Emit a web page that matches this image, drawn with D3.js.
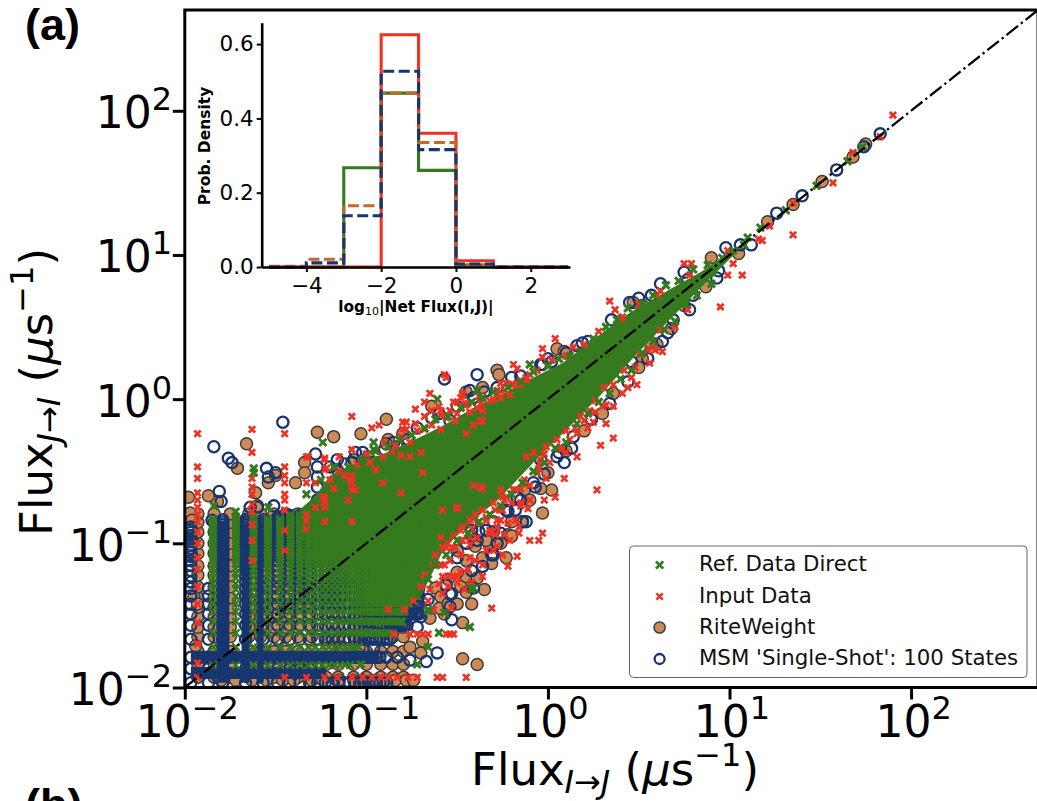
<!DOCTYPE html>
<html lang="en">

<head>
    <meta charset="UTF-8">
    <title>Flux scatter</title>
    <style>
        html, body {
            margin: 0;
            padding: 0;
            background: #fff;
            overflow: hidden;
        }

        svg {
            display: block;
        }
    </style>
</head>

<body>
    <div id="chart"></div>
    <script src="https://d3js.org/d3.v7.min.js"></script>
    <script>
        // scatter points are [log10 Flux I->J, log10 Flux J->I]
        const refPoints = [[1.73,1.75],[1.65,1.65],[1.48,1.48],[1.31,1.31],[1.17,1.19],[1.02,1.03],[.96,.98],[-.10,.24],[-1.24,-.30],[-.96,-.30],[-.96,-.35],[-.61,0],[-.39,.06],[-1.62,-.48],[-1.62,-.51],[-1.84,-.74],[-1.72,-.78],[-1.54,-.75],[-.43,-1.58],[-.60,-1.62],[-.66,-1.46],[-.57,-1.48],[-.41,-1.31],[-.66,-1.72],[-.72,-1.84],[-1.03,-1.84],[-.42,-1.32],[-.66,-1.47],[1.08,1.07],[.9,.88],[1.1,1.12]];
        const refFringe = [[-1.33,-.66],[-1.25,-.56],[-1.18,-.47],[-1.1,-.47],[-1.02,-.42],[-.95,-.36],[-.88,-.33],[-.82,-.28],[-.75,-.25],[-.68,-.2],[-.62,-.14],[-.55,-.12],[-.48,-.06],[-.42,-.02],[-.36,.01],[-.3,.05],[-.22,.08],[-.15,.12],[-.08,.19],[0,.23],[.06,.28],[.12,.3],[.18,.33],[.25,.42],[.32,.5],[.38,.55],[.44,.63],[.52,.66],[.58,.72],[.65,.79],[.72,.82],[.8,.9],[.88,.93],
            [-.66,-1.25],[-.62,-1.15],[-.56,-1.08],[-.5,-.98],[-.44,-.93],[-.38,-.85],[-.32,-.8],[-.26,-.74],[-.2,-.66],[-.14,-.58],[-.08,-.5],[-.02,-.44],[.04,-.34],[.1,-.3],[.16,-.17],[.22,-.1],[.28,-.02],[.34,.04],[.4,.14],[.46,.2],[.52,.32],[.58,.4],[.64,.48],[.7,.54],[.76,.66],[.82,.72],[.9,.8]];

        const inputPoints = [[1.90,1.97],[1.57,1.50],[1.35,1.14],[1.83,1.82],[1.68,1.71],[1.22,1.20],[1.16,1.11],[1.18,1.10],[1.35,1.36],[.99,1.03],[.75,.94],[.79,.94],[.78,.86],[1.02,.94],[.99,.86],[1.07,.86],[.95,.64],[.34,.68],[.37,.62],[.41,.57],[.04,.42],[-.03,.35],[-.03,.29],[-.19,.24],[-.17,.21],[.46,.15],[.49,.10],[.41,.04],[.32,-.04],[.36,-.05],[.26,-.09],[.25,-.16],[.32,-.17],[.36,-.27],[.29,-.32],[.16,-.24],[.16,-.40],[.09,-.55],[.27,-.63],[.04,-.68],[-.02,-.70],[-.01,-.55],[.77,.62],[.59,.34],[.63,.33],[.55,.34],[.60,.72],
            [-1.08,-.12],[-.97,-.20],[-.93,-.18],[-.73,-.07],[-.73,-.17],[-.65,.04],[-.68,-.02],[-.68,-.12],[-.57,.17],[-.56,.15],[-.80,-.16],[-.81,-.26],[-.78,-.16],[-.80,-.21],[-.78,-.21],[-.68,-.21],[-.17,.11],[-1.08,-.35],[-1.15,-.40],[-1.32,-.40],[-1.23,-.42],[-1.08,-.53],[-1.08,-.58],[-1.23,-.72],[-1.33,-.80],[-.52,-.02],[-.48,.01],[-.47,.03],[-.41,-.18],[-.36,-.08],[-.26,.01],[-.59,-.11],[-.46,-.04],[-.43,-.09],[-.32,-.01],[-.24,.06],[-.21,.03],[-.15,.10],[-.10,.17],[-.84,-.32],[-.59,-.21],[-.51,-.15],[-.81,-.39],[-.95,-.49],[-1.12,-.53],[-1.06,-.63],[-1.20,-.56],
            [-1.93,-.24],[-1.93,-.47],[-1.93,-.55],[-1.93,-.65],[-1.93,-.70],[-1.93,-.75],[-1.93,-.80],[-1.93,-.85],[-1.93,-.92],[-1.93,-1.0],[-1.93,-1.1],[-1.93,-1.18],[-1.93,-1.3],[-1.93,-1.42],[-1.93,-1.55],[-1.93,-1.7],[-1.93,-1.83],[-1.93,-1.93],
            [-1.63,-.21],[-1.63,-.37],[-1.63,-.55],[-1.63,-.61],[-1.63,-.66],[-1.63,-.73],[-1.63,-.78],[-1.63,-.87],[-1.63,-.98],[-1.63,-1.12],
            [-1.45,-.24],[-1.45,-.47],[-1.45,-.53],[-1.45,-.58],[-1.45,-.66],[-1.45,-.70],[-1.45,-.77],[-1.45,-.91],[-1.45,-1.05],
            [-1.33,-.40],[-1.33,-.58],[-1.23,-.41],[-1.23,-.49],[-1.23,-.75],
            [-1.45,-1.93],[-1.33,-1.93],[-1.23,-1.93],[-1.16,-1.93],[-1.08,-1.93],[-1.02,-1.93],[-.97,-1.93],[-.92,-1.93],[-.88,-1.93],[-.83,-1.93],[-.77,-1.93],[-.72,-1.93],[-.61,-1.93],[-.58,-1.93],[-.45,-1.93],
            [-.85,-1.63],[-.76,-1.63],[-.72,-1.63],[-.69,-1.63],[-.66,-1.63],[-.56,-1.63],[-.54,-1.63],[-.52,-1.63],
            [-.31,-1.45],[-.53,-1.45],[-.88,-1.46],[-.79,-1.46],[-.63,-1.46],
            [-.10,-.98],[-.05,-.98],[-.03,-.93],[-.16,-.93],[-.16,-.89],[-.17,-1.09],[-.22,-1.16],[-.11,-.76],[-.15,-.74],[-.10,-.70],[-.21,-.98],[-.36,-1.15],[-.63,-1.15],[-.61,-1.15],[-.59,-1.15],[-.57,-1.15],[-.58,-1.23],[-.55,-1.23],[-.52,-1.23],[-.50,-1.23],[-.58,-1.03],[-.56,-1.03],[-.53,-1.03],[-.51,-1.03],[-.43,-1.10],[-.25,-1.08],[-.36,-1.23],[-.46,-1.32],[-.58,-1.35],[-.65,-1.32],[-.37,-.61],[-.50,-.76],[-.36,-.77],[-.06,-.51],[-.12,-.40],[-.22,-.86],[-.26,-.84],[-.39,-.96],[-.32,-.91],[-.29,-.77],[-.24,-.70],[-.18,-.63],[-.13,-.56],[-.04,-.42],[.01,-.44],[-.43,-1.01],[-.48,-1.08],[-.54,-1.12],[-.29,-.94],[-.24,-.94],[-.18,-.84],[-.43,-.84],[-.48,-.91],[.23,-.08],[.20,-.15],[.15,-.20],[.26,-.01],[.31,.08],[.42,.20],[.51,.31],[.62,.48],[.12,-.28],[.07,-.35],
            [-.69,-.51],[-.81,-.65],[-.36,-.62],[-.41,-.60],[-.50,-.75],[-.58,-.77],[-.91,-.58],[-.59,-.96],[-.19,-.63],[-.25,-.68],[-.45,-.24],[-.37,-.15]];
        const inputFringe = [[-1.28,-.58],[-1.22,-.48],[-1.15,-.5],[-1.05,-.45],[-1,-.38],[-.9,-.3],[-.86,-.36],[-.76,-.3],[-.72,-.22],[-.64,-.18],[-.6,-.05],[-.54,-.08],[-.5,-.1],[-.44,-.03],[-.38,.02],[-.3,0],[-.28,.06],[-.2,.1],[-.12,.15],[-.06,.2],[.02,.27],[.1,.3],[.14,.36],[.2,.38],[.28,.47],[.4,.56],[.5,.66],[.62,.75],
            [-.62,-1.08],[-.55,-1],[-.52,-.95],[-.47,-.98],[-.42,-.9],[-.4,-.8],[-.34,-.82],[-.3,-.72],[-.26,-.76],[-.2,-.72],[-.15,-.62],[-.1,-.6],[-.05,-.48],[-.02,-.38],[.05,-.28],[.1,-.22],[.18,-.12],[.22,-.2],[.3,-.05],[.36,.1],[.48,.22],[.58,.36],[.7,.5],[.56,.25],[.44,.08],
            [-.44,-1.18],[-.48,-1.2],[-.4,-1.12],[-.34,-1.05],[-.3,-1.05],[-.28,-1.02],[-.5,-1.27],[-.42,-1.27],[-.55,-1.3],[-.6,-1.28],[-.68,-1.22],[-.7,-1.3],[-.74,-1.4],[-.66,-1.4],
            [-1.28,-.75],[-1.23,-.68],[-1.18,-.62],[-1.1,-.7],[-1.33,-.9],[-1.23,-.85],[-1.08,-.85],
            [-.59,-.08],[-.56,-.13],[-.50,-.02],[-.47,.04],[-.45,-.04],[-.37,-.03],[-.36,-.15],[-.28,.04],[-.23,.11],[-.19,.10],[-.15,.13],[-.26,.11],[-.12,.13],[-.64,-.08],[-.39,-.06],[-.70,-.37],[-.76,-.40],[-.91,-.40],[-.98,-.44],[-1.09,-.56],[-1.08,-.63],[-1.24,-.68],[-1.33,-.84],
            [-.28,-.84],[-.25,-.77],[-.23,-.68],[-.19,-.63],[-.15,-.72],[-.26,-.63],[-.34,-.84],[-.39,-.86],[-.43,-.96],[-.47,-.89],[-.48,-.98],[-.32,-.93],[-.28,-.89],[-.08,-.37],[-.01,-.33],[.07,-.33],[.10,-.37],[-.04,-.44]];

        const riteWeightPoints = [[1.75,1.77],[1.68,1.68],[1.51,1.51],[1.35,1.35],[1.21,1.23],[1.05,1.01],[.90,.98],[.87,.78],[.47,.67],[.52,.65],[.05,.35],[.09,.33],[-.28,.20],[-.27,.17],[-.36,.08],[0,-.51],[.02,-.63],[-.03,-.79],[.36,.04],[.52,.28],[.68,.49],[.75,.65],[.56,.40],
            [-1.27,-.23],[-1.18,-.26],[-1.03,-.24],[-.89,-.14],[-.88,-.28],[-.89,-.31],[-.64,-.05],[-1.34,-.44],[-1.34,-.51],[-1.16,-.49],[-1.07,-.42],[-.99,-.40],[-.80,-.24],[-.45,.05],
            [-1.66,-.31],[-1.71,-.48],[-1.54,-.58],[-1.50,-.53],[-1.61,-.65],[-1.39,-.58],[-1.82,-.71],[-1.60,-.74],[-1.87,-.67],[-1.98,-.68],[-1.97,-.79],[-1.96,-.84],[-1.96,-.98],[-1.96,-1.09],[-1.95,-1.37],[-1.93,-1.42],[-1.94,-1.71],
            [-.47,-1.80],[-.39,-1.84],[-.47,-1.55],[-.35,-1.32],[-.45,-1.30],[-.48,-1.30],[-.31,-1.14],[-.62,-1.31],[-.59,-1.37],[-.76,-1.72],[-.69,-1.68],[-.70,-1.76],[-.14,-.85],[-.23,-1.10],[-.32,-1.01],[-.22,-.94],[-.57,-1.49],[-.36,-1.10],[-.13,-.63],[-.45,-1.23],[-.39,-1.24],[-.45,-1.34],
            [-1.8,-1.95],[-1.72,-1.95],[-1.63,-1.95],[-1.55,-1.95],[-1.46,-1.95],[-1.4,-1.95],[-1.3,-1.95],[-1.24,-1.95],[-1.15,-1.95],[-1.07,-1.95],[-1.02,-1.95],[-.95,-1.95],[-.9,-1.95],[-.84,-1.95],[-.78,-1.95],[-.74,-1.95],
            [-1.2,-1.72],[-1.13,-1.72],[-1.08,-1.72],[-1.04,-1.72],
            [-.55,-1.25],[-.5,-1.2],[-.45,-1.12],[-.4,-1.02],[-.3,-.92],[-.2,-.85],[-.1,-.7],[-.04,-.62],[.1,-.36],[.2,-.22],[.3,-.1],[.5,.22],[.6,.38],[-.6,-1.45],[-.65,-1.52],[-.55,-1.42],[-.42,-1.42],[-.5,-1.42],
            [-.42,-.95],[-.34,-.98],[-.26,-1.0],[-.2,-.95],[-.5,-1.05]];

        const msmPoints = [[1.83,1.84],[1.74,1.75],[1.59,1.59],[1.40,1.41],[1.26,1.29],[1.12,1.07],[1.06,1.07],[.98,1.05],[.93,.84],[.94,.89],[.80,.72],[.77,.83],[.57,.72],[.45,.67],[.16,.37],[.19,.39],[-.03,.24],[.02,.26],[.46,.26],[.63,.40],[.69,.55],[-.07,-.61],[.13,-.34],[.09,-.44],[-.14,-.85],[.32,.17],[-.39,.17],[-.57,.14],[-1.28,-.38],[-1.16,-.42],[-1.06,-.37],[-1.08,-.44],[-1.27,-.47],[-1.27,-.54],[-1.27,-.61],[-1.27,-.70],[-.43,.06],[-.64,-.13],[-.20,.15],[-.04,.24],[-.83,-.33],[-.97,-.44],[-.96,-.47],[-.77,-.28],[-.54,-.15],[-.41,.01],
            [-1.84,-.33],[-1.76,-.41],[-1.74,-.44],[-1.46,-.16],[-1.55,-.48],[-1.54,-.54],[-1.50,-.51],[-1.81,-.64],[-1.80,-.71],[-1.85,-.84],[-1.64,-.75],[-1.60,-.75],[-1.51,-.74],[-1.54,-.85],
            [-.61,-1.76],[-.67,-1.82],[-.76,-1.81],[-.83,-1.79],[-.53,-1.53],[-.54,-1.44],[-.54,-1.35],[-.56,-1.29],[-.36,-1.16],[-.30,-1.08],[-.42,-1.19],[-.72,-1.58],[-.96,-1.72],[-.89,-1.79],[-.12,-.85],[-.18,-.77],[-.28,-1.0],[-.31,-1.08],[-.41,-1.31],[-.53,-1.35],[-.66,-1.39],[-.70,-1.51],[.06,-.37],
            [-1.2,-.47],[-1.12,-.45],[-1.02,-.37],[-.9,-.35],[-.85,-.3],[-.72,-.2],[-.6,-.1],[-.5,-.05],[-.35,.05],[-.28,.08],[-.15,.16],[0,.28],[.1,.32],[.22,.4],[.35,.55],[.5,.7],[.62,.8],[.75,.88],
            [-.5,-1.1],[-.45,-1],[-.38,-.92],[-.3,-.85],[-.22,-.78],[-.15,-.7],[-.08,-.58],[-.02,-.52],[.05,-.4],[.14,-.26],[.24,-.14],[.34,-.03],[.44,.12],[.55,.28],[.66,.46],[.78,.62],
            [-.26,-.93],[-.39,-.98],[-.45,-1.0],[-.42,-.91],[-.34,-.91],[-.23,-.77],[-.17,-.68],[-.04,-.42]];

        // low fluxes sit on discrete levels, these are the levels read from the columns and rows
        const refLevels = [.00956,.0143,.0191,.0239,.0287,.0335,.0382,.0430,.0478,.0526,.0574,.0621,.0669,.0717,.0765,.0813,.0860,.0908,.0956,.1004,.1052,.1099,.1147,.1195,.1243,.1291,.1338,.1386,.1434,.1482,.1530,.1577,.1625,.1673,.1721,.1769,.1816,.1864,.1912];
        const refColumnTops = [.08,.15,.155,.155,.15,.15];
        const refColumnTopRest = .16;
        const refRowEnds = [.13,.085,.093,.14,.158,.165,.175];
        const refRowEndRest = .192;

        const msmLevels = [.0108,.0135,.0162,.0216,.0270,.0324,.0378,.0432,.0486,.0540,.0594,.0648,.0702,.0756,.0810,.0864,.0918,.0972,.1026,.1080,.1134,.1188,.1242,.1296,.1350,.1404,.1458,.1512,.1566,.1620,.1674,.1728,.1782,.1836,.1890,.1944];
        const msmColumnTops = [.13,.05,.146,.15,.15,.155];
        const msmColumnTopRest = .16;
        const msmRowEnds = [.13,.05,.12,.14,.17];
        const msmRowEndRest = .195;

        const riteLevels = [.0118,.0145,.0178,.0225,.0262,.031,.036,.042,.05,.06,.07,.085,.1,.12,.14,.16];

        // where the MSM rings merge into solid strips: [level, from, to]
        const msmColumnStrips = [[.0162, .0108, .14], [.0216, .0108, .135], [.026, .0108, .125]];
        const msmRowStrips = [[.0162, .0108, .117], [.0126, .0108, .06]];
        const msmStripWidths = [13, 8, 7, 13, 12];

        // solid part of the Ref. Data cloud: [log10 x, log10 y low, log10 y high]
        const refCore = [[-1.37,-.98,-.77],[-1.28,-.98,-.67],[-1.20,-.97,-.53],[-1.0,-1.16,-.41],[-.92,-1.2,-.39],[-.70,-1.37,-.26],[-.57,-1.03,-.18],[-.41,-.84,-.06],[-.26,-.68,.03],[-.08,-.44,.15],[.08,-.24,.25],[.30,.04,.46],[.45,.26,.60],[.67,.55,.76],[.84,.77,.88],[1.04,1.02,1.05]];

        const xTicks = [.01, .1, 1, 10, 100];
        const yTicks = [.01, .1, 1, 10, 100];
        const tickExponents = ["\u22122", "\u22121", "0", "1", "2"];

        const legendLabels = ["Ref. Data Direct", "Input Data", "RiteWeight", "MSM 'Single-Shot': 100 States"];

        // inset histogram, bin edges and density per bin
        const histEdges = [-5, -4, -3, -2, -1, 0, 1, 2, 3];
        const histRef = [0, 0, .267, .468, .26, .005, 0, 0];
        const histInput = [0, 0, 0, .625, .36, .017, 0, 0];
        const histRite = [.002, .021, .165, .468, .335, .005, 0, 0];
        const histMsm = [0, .011, .138, .527, .316, .008, 0, 0];
        const histXTicks = [-4, -2, 0, 2];
        const histYTicks = [0, .2, .4, .6];

        const colors = { ref: "#357a1f", input: "#ee3224", rite: "#cc8a58", riteEdge: "#3f3a36", msm: "#17356f", riteHist: "#c4682e" };

        function richText(sel, parts) {
            // parts: [text, font size, baseline shift, italic]
            let shift = 0;
            parts.forEach(([t, size, up, italic]) => {
                sel.append("tspan")
                    .attr("font-size", size)
                    .attr("font-style", italic ? "italic" : "normal")
                    .attr("dy", shift - up)
                    .text(t);
                shift = up;
            });
        }

        function createChart() {
            const width = 1037;
            const height = 801;

            const x = d3.scaleLog().domain([.01, 500]).range([184.8, 1038]);
            const y = d3.scaleLog().domain([.01, 500]).range([687.5, 10]);
            const px = d => x(10 ** d[0]);
            const py = d => y(10 ** d[1]);

            const svg = d3.select("#chart").append("svg")
                .attr("width", width)
                .attr("height", height)
                .attr("viewBox", [0, 0, width, height])
                .attr("font-family", "'DejaVu Sans', sans-serif");

            svg.append("clipPath").attr("id", "plot-clip").append("rect")
                .attr("x", x.range()[0]).attr("y", y.range()[1])
                .attr("width", x.range()[1] - x.range()[0])
                .attr("height", y.range()[0] - y.range()[1]);

            const plot = svg.append("g").attr("clip-path", "url(#plot-clip)");

            const timesGreen = d3.symbol().type(d3.symbolTimes).size(36)();
            const timesRed = d3.symbol().type(d3.symbolTimes).size(28)();

            // keep lattice nodes inside the extent read for their column and row
            const lattice = (levels, tops, topRest, ends, endRest) => {
                const out = [];
                levels.forEach((xv, i) => levels.forEach((yv, j) => {
                    const top = i < tops.length ? tops[i] : topRest;
                    const end = j < ends.length ? ends[j] : endRest;
                    if (yv <= top && xv <= end) out.push([Math.log10(xv), Math.log10(yv)]);
                }));
                return out;
            };

            const riteAll = lattice(riteLevels, [], .17, [], .17).concat(riteWeightPoints);
            const msmAll = lattice(msmLevels, msmColumnTops, msmColumnTopRest, msmRowEnds, msmRowEndRest).concat(msmPoints);
            const refLattice = lattice(refLevels, refColumnTops, refColumnTopRest, refRowEnds, refRowEndRest);
            const refAll = refPoints.concat(refFringe);
            const inputAll = inputPoints.concat(inputFringe);

            plot.append("g").selectAll("circle").data(riteAll).join("circle")
                .attr("cx", px).attr("cy", py).attr("r", 6)
                .attr("fill", colors.rite).attr("stroke", colors.riteEdge).attr("stroke-width", 1.5);

            plot.append("g").selectAll("circle").data(msmAll).join("circle")
                .attr("cx", px).attr("cy", py).attr("r", 5.6)
                .attr("fill", "none").attr("stroke", colors.msm).attr("stroke-width", 2.3);

            const strips = plot.append("g").attr("stroke", colors.msm);
            msmColumnStrips.forEach(([level, from, to], i) => {
                strips.append("line")
                    .attr("x1", x(level)).attr("x2", x(level))
                    .attr("y1", y(from)).attr("y2", y(to))
                    .attr("stroke-width", msmStripWidths[i]);
            });
            msmRowStrips.forEach(([level, from, to], i) => {
                strips.append("line")
                    .attr("y1", y(level)).attr("y2", y(level))
                    .attr("x1", x(from)).attr("x2", x(to))
                    .attr("stroke-width", msmStripWidths[i + msmColumnStrips.length]);
            });

            plot.append("path").datum(refCore)
                .attr("fill", colors.ref)
                .attr("d", d3.area()
                    .x(d => x(10 ** d[0]))
                    .y0(d => y(10 ** d[1]))
                    .y1(d => y(10 ** d[2])));

            plot.append("g").selectAll("path").data(refLattice).join("path")
                .attr("d", timesGreen)
                .attr("transform", d => `translate(${px(d)},${py(d)})`)
                .attr("fill", "none").attr("stroke", colors.ref).attr("stroke-width", 2.4);

            plot.append("g").selectAll("path").data(inputAll).join("path")
                .attr("d", timesRed)
                .attr("transform", d => `translate(${px(d)},${py(d)})`)
                .attr("fill", "none").attr("stroke", colors.input).attr("stroke-width", 2.7);

            plot.append("g").selectAll("path").data(refAll).join("path")
                .attr("d", timesGreen)
                .attr("transform", d => `translate(${px(d)},${py(d)})`)
                .attr("fill", "none").attr("stroke", colors.ref).attr("stroke-width", 3);

            // y = x
            plot.append("line")
                .attr("x1", x(.01)).attr("y1", y(.01))
                .attr("x2", x(500)).attr("y2", y(500))
                .attr("stroke", "#000").attr("stroke-width", 2.3)
                .attr("stroke-dasharray", "14.7 3.7 2.3 3.7");

            // spines and ticks
            svg.append("rect")
                .attr("x", x.range()[0]).attr("y", y.range()[1])
                .attr("width", x.range()[1] - x.range()[0])
                .attr("height", y.range()[0] - y.range()[1])
                .attr("fill", "none").attr("stroke", "#000").attr("stroke-width", 3);

            const xAxis = svg.append("g")
                .attr("transform", `translate(0,${y.range()[0]})`)
                .call(d3.axisBottom(x).tickValues(xTicks).tickSize(12).tickSizeOuter(0).tickFormat(""));
            const yAxis = svg.append("g")
                .attr("transform", `translate(${x.range()[0]},0)`)
                .call(d3.axisLeft(y).tickValues(yTicks).tickSize(12).tickSizeOuter(0).tickFormat(""));
            [xAxis, yAxis].forEach(a => {
                a.select(".domain").remove();
                a.selectAll(".tick line").attr("stroke-width", 3).attr("stroke", "#000");
            });

            xTicks.forEach((t, i) => {
                svg.append("text")
                    .attr("x", x(t) + 2.5).attr("y", 736.5)
                    .attr("text-anchor", "middle").attr("fill", "#000")
                    .call(richText, [["10", 44, 0], [tickExponents[i], 32, 18]]);
            });
            yTicks.forEach((t, i) => {
                svg.append("text")
                    .attr("x", 172).attr("y", y(t) + 17.5)
                    .attr("text-anchor", "end").attr("fill", "#000")
                    .call(richText, [["10", 44, 0], [tickExponents[i], 32, 18]]);
            });

            svg.append("text")
                .attr("x", 615).attr("y", 785)
                .attr("text-anchor", "middle").attr("fill", "#000")
                .call(richText, [["Flux", 45, 0], ["I\u2192J", 32, -8, true], [" (", 45, 0], ["\u03bc", 45, 0, true], ["s", 45, 0], ["\u22121", 32, 19], [")", 45, 0]]);

            svg.append("text")
                .attr("transform", "translate(52,392) rotate(-90)")
                .attr("text-anchor", "middle").attr("fill", "#000")
                .call(richText, [["Flux", 45, 0], ["J\u2192I", 32, -8, true], [" (", 45, 0], ["\u03bc", 45, 0, true], ["s", 45, 0], ["\u22121", 32, 19], [")", 45, 0]]);

            svg.append("text").attr("x", 25).attr("y", 39.5)
                .attr("font-family", "'Liberation Sans', sans-serif").attr("font-weight", "bold")
                .attr("font-size", 45).text("(a)");
            svg.append("text").attr("x", 25).attr("y", 819.5)
                .attr("font-family", "'Liberation Sans', sans-serif").attr("font-weight", "bold")
                .attr("font-size", 45).text("(b)");

            // legend
            const legend = svg.append("g");
            legend.append("rect")
                .attr("x", 629.5).attr("y", 546).attr("width", 397.5).attr("height", 131.5)
                .attr("rx", 4).attr("fill", "#fff").attr("stroke", "#666").attr("stroke-width", 1);
            const rows = legend.selectAll("g").data(legendLabels).join("g")
                .attr("transform", (d, i) => `translate(659.6,${[565, 596.5, 627.5, 659][i]})`);
            rows.append("text")
                .attr("x", 39.4).attr("dy", "0.29em")
                .attr("font-size", 21.3).attr("fill", "#111")
                .text(d => d);
            rows.filter((d, i) => i === 0).append("path").attr("d", timesGreen)
                .attr("fill", "none").attr("stroke", colors.ref).attr("stroke-width", 2.8);
            rows.filter((d, i) => i === 1).append("path").attr("d", timesRed)
                .attr("fill", "none").attr("stroke", colors.input).attr("stroke-width", 2.5);
            rows.filter((d, i) => i === 2).append("circle").attr("r", 5.6)
                .attr("fill", colors.rite).attr("stroke", colors.riteEdge).attr("stroke-width", 1.5);
            rows.filter((d, i) => i === 3).append("circle").attr("r", 5)
                .attr("fill", "none").attr("stroke", colors.msm).attr("stroke-width", 2.3);

            // inset
            const ix = d3.scaleLinear().domain([-5.195, 3.05]).range([261.7, 570]);
            const iy = d3.scaleLinear().domain([0, .6576]).range([267, 22.7]);
            const inset = svg.append("g");

            const step = d3.line().x(d => ix(d[0])).y(d => iy(d[1])).curve(d3.curveStepAfter);
            const outline = vals => histEdges.map((e, i) => [e, i < vals.length ? vals[i] : 0]);

            [[histRef, colors.ref, null], [histInput, colors.input, null], [histRite, colors.riteHist, "11 4.5"], [histMsm, colors.msm, "11 4.5"]]
                .forEach(([vals, color, dash]) => {
                    inset.append("path")
                        .attr("d", step(outline(vals)))
                        .attr("fill", "none")
                        .attr("stroke", color)
                        .attr("stroke-width", 3.1)
                        .attr("stroke-dasharray", dash);
                });

            const ixAxis = inset.append("g")
                .attr("transform", `translate(0,${iy(0)})`)
                .call(d3.axisBottom(ix).tickValues(histXTicks).tickSize(5).tickSizeOuter(0).tickFormat(d => d3.format("d")(d).replace("-", "\u2212")));
            const iyAxis = inset.append("g")
                .attr("transform", `translate(${ix.range()[0]},0)`)
                .call(d3.axisLeft(iy).tickValues(histYTicks).tickSize(5).tickSizeOuter(0).tickFormat(d3.format(".1f")));
            [ixAxis, iyAxis].forEach(a => {
                a.attr("font-family", null).attr("font-size", 21.5);
                a.select(".domain").attr("stroke-width", 2.6).attr("stroke", "#000");
                a.selectAll(".tick line").attr("stroke-width", 2).attr("stroke", "#000");
                a.selectAll(".tick text").attr("fill", "#000");
            });
            ixAxis.selectAll(".tick text").attr("dy", null).attr("y", 26);
            iyAxis.selectAll(".tick text").attr("x", -8);

            inset.append("text")
                .attr("transform", "translate(210,146) rotate(-90)")
                .attr("text-anchor", "middle")
                .attr("font-weight", "bold").attr("font-size", 15.5).attr("fill", "#000")
                .text("Prob. Density");

            const xl = inset.append("text")
                .attr("x", 416).attr("y", 312)
                .attr("text-anchor", "middle")
                .attr("font-weight", "bold").attr("fill", "#000")
                .call(richText, [["log", 15.3, 0], ["10", 11, -3], ["|Net Flux(I,J)|", 15.3, 0]]);
            xl.selectAll("tspan").filter((d, i) => i === 1).attr("font-weight", "normal");
        }

        document.addEventListener("DOMContentLoaded", createChart);
    </script>
</body>

</html>
